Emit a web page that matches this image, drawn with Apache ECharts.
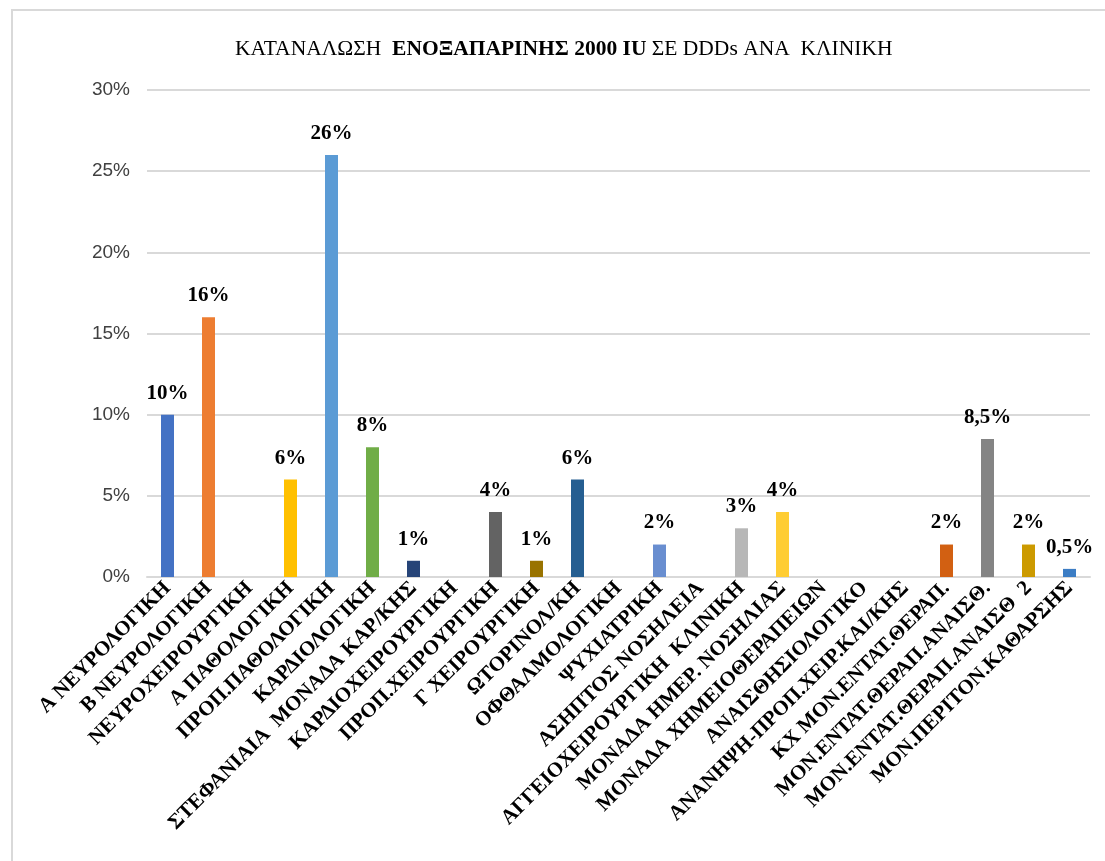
<!DOCTYPE html>
<html>
<head>
<meta charset="utf-8">
<script src="https://cdn.jsdelivr.net/npm/echarts@6/dist/echarts.min.js"></script>
<style>
  html, body { margin: 0; padding: 0; background: #fff; }
  #chart { width: 1105px; height: 861px; }
</style>
</head>
<body>
<div id="chart"></div>
<script>
// Clinics (x axis categories)
const clinics = [
  'Α ΝΕΥΡΟΛΟΓΙΚΗ',
  'Β ΝΕΥΡΟΛΟΓΙΚΗ',
  'ΝΕΥΡΟΧΕΙΡΟΥΡΓΙΚΗ',
  'Α ΠΑΘΟΛΟΓΙΚΗ',
  'ΠΡΟΠ.ΠΑΘΟΛΟΓΙΚΗ',
  'ΚΑΡΔΙΟΛΟΓΙΚΗ',
  'ΣΤΕΦΑΝΙΑΙΑ  ΜΟΝΑΔΑ ΚΑΡ/ΚΗΣ',
  'ΚΑΡΔΙΟΧΕΙΡΟΥΡΓΙΚΗ',
  'ΠΡΟΠ.ΧΕΙΡΟΥΡΓΙΚΗ',
  'Γ ΧΕΙΡΟΥΡΓΙΚΗ',
  'ΩΤΟΡΙΝΟΛ/ΚΗ',
  'ΟΦΘΑΛΜΟΛΟΓΙΚΗ',
  'ΨΥΧΙΑΤΡΙΚΗ',
  'ΑΣΗΠΤΟΣ ΝΟΣΗΛΕΙΑ',
  'ΑΓΓΕΙΟΧΕΙΡΟΥΡΓΙΚΗ  ΚΛΙΝΙΚΗ',
  'ΜΟΝΑΔΑ ΗΜΕΡ. ΝΟΣΗΛΙΑΣ',
  'ΜΟΝΑΔΑ ΧΗΜΕΙΟΘΕΡΑΠΕΙΩΝ',
  'ΑΝΑΙΣΘΗΣΙΟΛΟΓΙΚΟ',
  'ΑΝΑΝΗΨΗ-ΠΡΟΠ.ΧΕΙΡ.ΚΑΙ/ΚΗΣ',
  'ΚΧ ΜΟΝ.ΕΝΤΑΤ.ΘΕΡΑΠ.',
  'ΜΟΝ.ΕΝΤΑΤ.ΘΕΡΑΠ.ΑΝΑΙΣΘ.',
  'ΜΟΝ.ΕΝΤΑΤ.ΘΕΡΑΠ.ΑΝΑΙΣΘ  2',
  'ΜΟΝ.ΠΕΡΙΤΟΝ.ΚΑΘΑΡΣΗΣ'
];

// Share of DDD consumption per clinic (%); null = no consumption, no bar drawn
const shares = [10, 16, null, 6, 26, 8, 1, null, 4, 1, 6, null, 2, null, 3, 4, null, null, null, 2, 8.5, 2, 0.5];

// Per-bar colours (office-style varied palette)
const barColors = [
  '#4472C4', '#ED7D31', '#A5A5A5', '#FFC000', '#5B9BD5', '#70AD47',
  '#264478', '#9E480E', '#636363', '#997300', '#255E91', '#43682B',
  '#698ED0', '#F1975A', '#B7B7B7', '#FFCD33', '#7CAFDD', '#8CC168',
  '#335AA1', '#D26012', '#848484', '#CC9A00', '#3C7DC4'
];

// Y axis ticks
const yMin = 0, yMax = 30, yStep = 5;

const chart = echarts.init(document.getElementById('chart'), null, { renderer: 'canvas' });

chart.setOption({
  backgroundColor: '#fff',
  animation: false,
  graphic: [{
    type: 'rect',
    shape: { x: 12, y: 10, width: 1200, height: 1000 },
    style: { fill: 'none', stroke: '#d9d9d9', lineWidth: 2 },
    silent: true
  }],
  title: {
    left: 230,
    top: 33,
    text: '{n|ΚΑΤΑΝΑΛΩΣΗ  }{b|ΕΝΟΞΑΠΑΡΙΝΗΣ 2000 IU}{n| ΣΕ DDDs ΑΝΑ  ΚΛΙΝΙΚΗ}',
    textStyle: {
      fontWeight: 'normal',
      rich: {
        n: { fontFamily: 'Liberation Serif', fontSize: 21.5, fontWeight: 'normal', color: '#000' },
        b: { fontFamily: 'Liberation Serif', fontSize: 21.5, fontWeight: 'bold', color: '#000' }
      }
    }
  },
  grid: { left: 147, right: 15, top: 90, bottom: 284, containLabel: false },
  xAxis: {
    type: 'category',
    data: clinics,
    axisLine: { lineStyle: { color: '#d9d9d9', width: 2 } },
    axisTick: { show: false },
    axisLabel: {
      interval: 0,
      rotate: 45,
      margin: 8,
      fontFamily: 'Liberation Serif',
      fontWeight: 'bold',
      fontSize: 21,
      color: '#000'
    }
  },
  yAxis: {
    type: 'value',
    min: yMin,
    max: yMax,
    interval: yStep,
    axisLine: { show: false },
    axisTick: { show: false },
    splitLine: { lineStyle: { color: '#d9d9d9', width: 2 } },
    axisLabel: {
      formatter: '{value}%',
      margin: 17,
      fontFamily: 'Liberation Sans',
      fontSize: 19,
      color: '#404040'
    }
  },
  series: [{
    type: 'bar',
    barWidth: 13,
    data: shares.map((v, i) => ({ value: v, itemStyle: { color: barColors[i] } })),
    label: {
      show: true,
      position: 'top',
      distance: 11,
      fontFamily: 'Liberation Serif',
      fontWeight: 'bold',
      fontSize: 21,
      color: '#000',
      formatter: p => (p.value == null ? '' : String(p.value).replace('.', ',') + '%')
    }
  }]
});
</script>
</body>
</html>
